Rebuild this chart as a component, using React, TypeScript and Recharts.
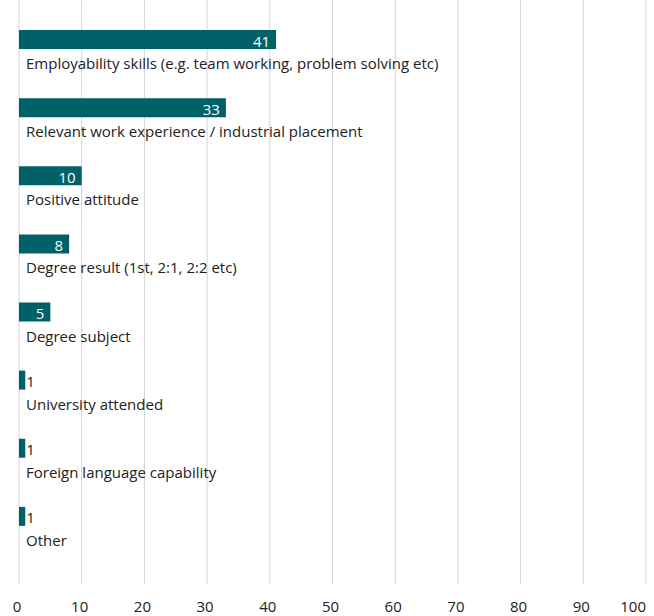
import { BarChart, Bar, XAxis, YAxis, CartesianGrid, LabelList } from "recharts";

const categories = [
  "Employability skills (e.g. team working, problem solving etc)",
  "Relevant work experience / industrial placement",
  "Positive attitude",
  "Degree result (1st, 2:1, 2:2 etc)",
  "Degree subject",
  "University attended",
  "Foreign language capability",
  "Other",
];
const values = [41, 33, 10, 8, 5, 1, 1, 1];
const xTicks = [0, 10, 20, 30, 40, 50, 60, 70, 80, 90, 100];

const data = categories.map((name, i) => ({ name, value: values[i] }));

const TEAL = "#006169";
const FONT = "'Open Sans', sans-serif";

const ValueLabel = (props: any) => {
  const { x, y, width, height, value } = props;
  const inside = width > 22;
  return (
    <text
      x={inside ? x + width - 6 : x + width + 1}
      y={y + height / 2 + 1}
      textAnchor={inside ? "end" : "start"}
      dominantBaseline="central"
      fill={inside ? "#ffffff" : "#222222"}
      fontSize={15}
      fontFamily={FONT}
    >
      {value}
    </text>
  );
};

const NameLabel = (props: any) => {
  const { x, y, height, value } = props;
  return (
    <text
      x={x + 7}
      y={y + height + 14}
      dominantBaseline="central"
      fill="#222222"
      fontSize={15}
      fontFamily={FONT}
    >
      {value}
    </text>
  );
};

const XTick = (props: any) => {
  const { x, payload } = props;
  const last = payload.value === xTicks[xTicks.length - 1];
  return (
    <text
      x={last ? x : x - 2}
      y={606}
      textAnchor={last ? "end" : "middle"}
      dominantBaseline="central"
      fill="#222222"
      fontSize={15}
      fontFamily={FONT}
    >
      {payload.value}
    </text>
  );
};

export default function App() {
  return (
    <div style={{ position: "absolute", left: 0, top: 0, background: "#fff" }}>
      <BarChart
        width={654}
        height={616}
        data={data}
        layout="vertical"
        margin={{ top: 0, right: 8, bottom: 0, left: 19 }}
      >
        <CartesianGrid horizontal={false} stroke="#d4d4d4" />
        <XAxis
          type="number"
          domain={[0, 100]}
          ticks={xTicks}
          axisLine={false}
          tickLine={false}
          height={32}
          tick={<XTick />}
          interval={0}
        />
        <YAxis type="category" dataKey="name" hide width={0} padding={{ top: 5, bottom: 34 }} />
        <Bar dataKey="value" fill={TEAL} barSize={19} isAnimationActive={false}>
          <LabelList dataKey="value" content={<ValueLabel />} />
          <LabelList dataKey="name" content={<NameLabel />} />
        </Bar>
      </BarChart>
    </div>
  );
}
